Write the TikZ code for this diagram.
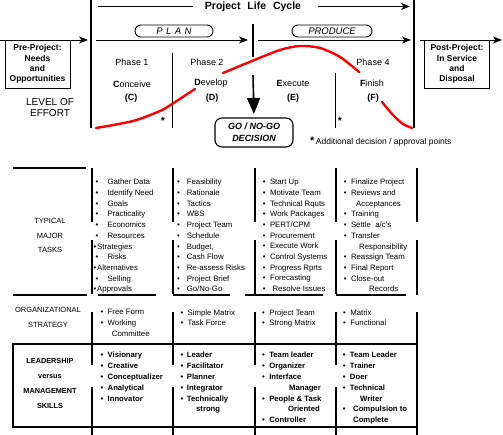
\documentclass[tikz,border=0pt]{standalone}
\usepackage{fontspec}
\setmainfont{Liberation Sans}
\usetikzlibrary{arrows.meta}

\newcommand{\bl}[1][4.5pt]{\textbullet\hspace{#1}}

\tikzset{
  flow/.style={-{Stealth[length=9pt,width=7pt,inset=2.5pt]}, line width=0.8pt},
  bar/.style={line width=1.6pt},
  rule/.style={line width=1.2pt},
  effort/.style={red, line width=2.4pt, line cap=round},
  stage/.style={draw, line width=0.9pt, rounded corners=6pt, minimum height=12pt,
    inner sep=0pt, font=\fontsize{9.5}{10}\selectfont\itshape},
  outbox/.style={draw, line width=0.8pt, minimum width=65pt, minimum height=48pt,
    inner sep=0pt, align=center, font=\fontsize{8.5}{10.3}\selectfont\bfseries},
  phase/.style={inner sep=0pt, font=\fontsize{9}{10}\selectfont},
  starmark/.style={inner sep=0pt, font=\fontsize{10.5}{11}\selectfont\bfseries},
  rowlabel/.style={inner sep=0pt, align=center, font=\fontsize{7.5}{14.8}\selectfont},
  tasks/.style={anchor=north west, inner sep=0pt, align=left,
    font=\fontsize{7.8}{10.7}\selectfont},
  skills/.style={anchor=north west, inner sep=0pt, align=left,
    font=\fontsize{7.7}{10.8}\selectfont\bfseries},
}

\begin{document}
\begin{tikzpicture}[x=1pt,y=-1pt]
  \useasboundingbox (0,0) rectangle (503,435);

  % life cycle header
  \node[inner sep=0pt, font=\fontsize{10.5}{12}\selectfont\bfseries] (title) at (253,6.5)
    {Project\hspace{4pt} Life\hspace{4pt} Cycle};
  \coordinate (lcL) at (98,6.5);
  \coordinate (lcR) at (410,6.5);
  \draw[line width=0.8pt] (lcL) -- ([xshift=-12pt]title.west);
  \draw[flow] ([xshift=17pt]title.east) -- (lcR);
  \draw[bar] (91,0) -- (91,128);
  \draw[bar] (414,0) -- (414,128);

  % plan / produce
  \node[stage, minimum width=78pt] (plan) at (174,31)
    {P\hspace{3.4pt}L\hspace{3.4pt}A\hspace{3.4pt}N};
  \node[stage, minimum width=80pt] (produce) at (332,31) {PRODUCE};
  \node[outbox] (pre) at (37.5,64) {Pre-Project:\\Needs\\and\\Opportunities};
  \node[outbox] (post) at (457,64) {Post-Project:\\In Service\\and\\Disposal};
  \coordinate (preL) at (0,40);
  \coordinate (preR) at (88,40);
  \coordinate (planL) at (96,40);
  \coordinate (planR) at (248,40);
  \coordinate (prodL) at (258,40);
  \coordinate (prodR) at (411,40);
  \coordinate (postL) at (420,40);
  \coordinate (postR) at (502,40);
  \draw[flow] (preL) -- (preR);
  \draw[flow] (planL) -- (planR);
  \draw[flow] (prodL) -- (prodR);
  \draw[flow] (postL) -- (postR);

  % phases
  \node[align=center, inner sep=0pt, font=\fontsize{10}{11}\selectfont] (effort) at (50,107.5)
    {LEVEL OF\\EFFORT};
  \node[phase] (ph1) at (132,62) {Phase 1};
  \node[phase] (conceive) at (132,84) {\textbf{C}onceive};
  \node[phase, font=\fontsize{9}{10}\selectfont\bfseries] (c) at (131,98) {(C)};
  \node[phase] (ph2) at (207,62) {Phase 2};
  \node[phase] (develop) at (211,83) {\textbf{D}evelop};
  \node[phase, font=\fontsize{9}{10}\selectfont\bfseries] (d) at (212,98) {(D)};
  \node[phase] (execute) at (293,83) {\textbf{E}xecute};
  \node[phase, font=\fontsize{9}{10}\selectfont\bfseries] (e) at (293,98) {(E)};
  \node[phase] (ph4) at (373,62) {Phase 4};
  \node[phase] (finish) at (372,83) {\textbf{F}inish};
  \node[phase, font=\fontsize{9}{10}\selectfont\bfseries] (f) at (373,98) {(F)};
  \draw[line width=0.9pt] (172,53) -- (172,128);
  \draw[line width=0.9pt] (335,73) -- (335,128);
  \node[starmark] (star1) at (163,120.5) {*};
  \node[starmark] (star2) at (340,120.5) {*};

  % level of effort curve
  \draw[effort] plot[smooth] coordinates {(96,128) (133,121) (160,111) (172,104) (195,89)};
  \draw[effort] plot[smooth] coordinates {(223,73) (252,61) (280,50) (300,46) (320,48) (340,57) (359,72)};
  \draw[effort] plot[smooth] coordinates {(382,102) (393,115) (403,124) (412,128)};

  % go / no-go
  \node[draw, line width=1.1pt, rounded corners=7pt, minimum width=78pt, minimum height=29pt,
    inner sep=0pt, align=center, font=\fontsize{9}{12}\selectfont\bfseries\itshape] (go) at (254,132.5)
    {GO / NO-GO\\DECISION};
  \coordinate (goTop) at (253,24);
  \coordinate (goA) at (253,57);
  \coordinate (goB) at (253,75);
  \draw[bar] (goTop) -- (goA);
  \draw[bar, -{Triangle[length=16pt,width=13pt]}, shorten >=3.5pt] (goB) -- (go.north);
  \node[anchor=west, inner sep=0pt, font=\fontsize{8.5}{10}\selectfont] (note) at (310,141.5)
    {{\fontsize{11}{11}\selectfont\bfseries *}\,Additional decision / approval points};

  % typical major tasks
  \node[rowlabel] (typ) at (50,235.5) {TYPICAL\\MAJOR\\TASKS};
  \draw[rule] (13,168) -- (86,168);
  \draw[rule] (13,295) -- (87,295);
  \draw[rule] (92,168) -- (92,222) (92,240) -- (92,294) (92,312) -- (92,344);
  \draw[rule] (173,168) -- (173,222) (173,240) -- (173,294) (173,312) -- (173,344);
  \draw[rule] (255,168) -- (255,222) (255,240) -- (255,294) (255,312) -- (255,344);
  \draw[rule] (336,168) -- (336,222) (336,240) -- (336,294) (336,312) -- (336,344);
  \draw[rule] (417,168) -- (417,222) (417,240) -- (417,295) (417,312) -- (417,435);
  \draw[rule] (98,295) -- (156,295);
  \draw[rule] (173,295) -- (230,295);
  \draw[rule] (245,295) -- (323,295);
  \draw[rule] (336,295) -- (406,295);

  \node[tasks] (t1) at (95.3,179) {\bl[9.3pt]Gather Data\\ \bl[9.3pt]Identify Need\\
    \bl[9.3pt]Goals\\ \bl[9.3pt]Practicality\\ \bl[9.3pt]Economics\\ \bl[9.3pt]Resources\\
    \hspace{-2pt}\bl[1pt]Strategies\\ \bl[9.3pt]Risks\\ \hspace{-2pt}\bl[1pt]Alternatives\\
    \bl[9.3pt]Selling\\ \hspace{-2pt}\bl[1pt]Approvals};
  \node[tasks] (t2) at (176.9,179) {\bl[7pt]Feasibility\\ \bl[7pt]Rationale\\ \bl[7pt]Tactics\\
    \bl[7pt]WBS\\ \bl[7pt]Project Team\\ \bl[7pt]Schedule\\ \bl[7pt]Budget,\\ \bl[7pt]Cash Flow\\
    \bl[7pt]Re-assess Risks\\ \bl[7pt]Project Brief\\ \bl[7pt]Go/No-Go};
  \node[tasks] (t3) at (262.6,179) {\bl Start Up\\ \bl Motivate Team\\ \bl Technical Rquts\\
    \bl Work Packages\\ \bl PERT/CPM\\ \bl Procurement\\ \bl Execute Work\\ \bl Control Systems\\
    \bl Progress Rprts\\ \bl Forecasting\\ \bl[7pt]Resolve Issues};
  \node[tasks] (t4) at (343.6,179) {\bl Finalize Project\\ \bl Reviews and\\
    \hspace{12.4pt}Acceptances\\ \bl Training\\ \bl Settle\ \ a/c's\\ \bl Transfer\\
    \hspace{15.4pt}Responsibility\\ \bl Reassign Team\\ \bl Final Report\\ \bl Close-out\\
    \hspace{25.4pt}Records};

  % organizational strategy
  \node[rowlabel] (orgl) at (48,317.5) {ORGANIZATIONAL\\STRATEGY};
  \node[tasks] (o1) at (100.3,309.2) {\bl Free Form\\ \bl Working\\ \hspace{11.4pt}Committee};
  \node[tasks] (o2) at (180.3,309.2) {\bl Simple Matrix\\ \bl Task Force};
  \node[tasks] (o3) at (261.9,309.2) {\bl Project Team\\ \bl Strong Matrix};
  \node[tasks] (o4) at (342.9,309.2) {\bl Matrix\\ \bl Functional};

  % leadership versus management
  \draw[line width=1.8pt] (13,344) rectangle (417,427);
  \draw[rule] (92,344) -- (92,365) (92,387) -- (92,435);
  \draw[rule] (173,344) -- (173,365) (173,387) -- (173,435);
  \draw[rule] (255,344) -- (255,365) (255,387) -- (255,435);
  \draw[rule] (336,344) -- (336,365) (336,387) -- (336,435);
  \node[rowlabel, font=\fontsize{7.3}{15}\selectfont\bfseries] (lead) at (50,383.5)
    {LEADERSHIP\\versus\\MANAGEMENT\\SKILLS};
  \node[skills] (s1) at (100.3,352.2) {\bl Visionary\\ \bl Creative\\ \bl Conceptualizer\\
    \bl Analytical\\ \bl Innovator};
  \node[skills] (s2) at (180.3,352.2) {\bl[3.7pt]Leader\\ \bl[3.7pt]Facilitator\\ \bl[3.7pt]Planner\\
    \bl[3.7pt]Integrator\\ \bl[3.7pt]Technically\\ \hspace{15.7pt}strong};
  \node[skills] (s3) at (261.9,352.2) {\bl Team leader\\ \bl Organizer\\ \bl Interface\\
    \hspace{27pt}Manager\\ \bl People \& Task\\ \hspace{26pt}Oriented\\ \bl Controller};
  \node[skills] (s4) at (342.6,352.2) {\bl Team Leader\\ \bl Trainer\\ \bl Doer\\ \bl Technical\\
    \hspace{17.4pt}Writer\\ \bl[7.7pt]Compulsion to\\ \hspace{10.4pt}Complete};
\end{tikzpicture}
\end{document}
